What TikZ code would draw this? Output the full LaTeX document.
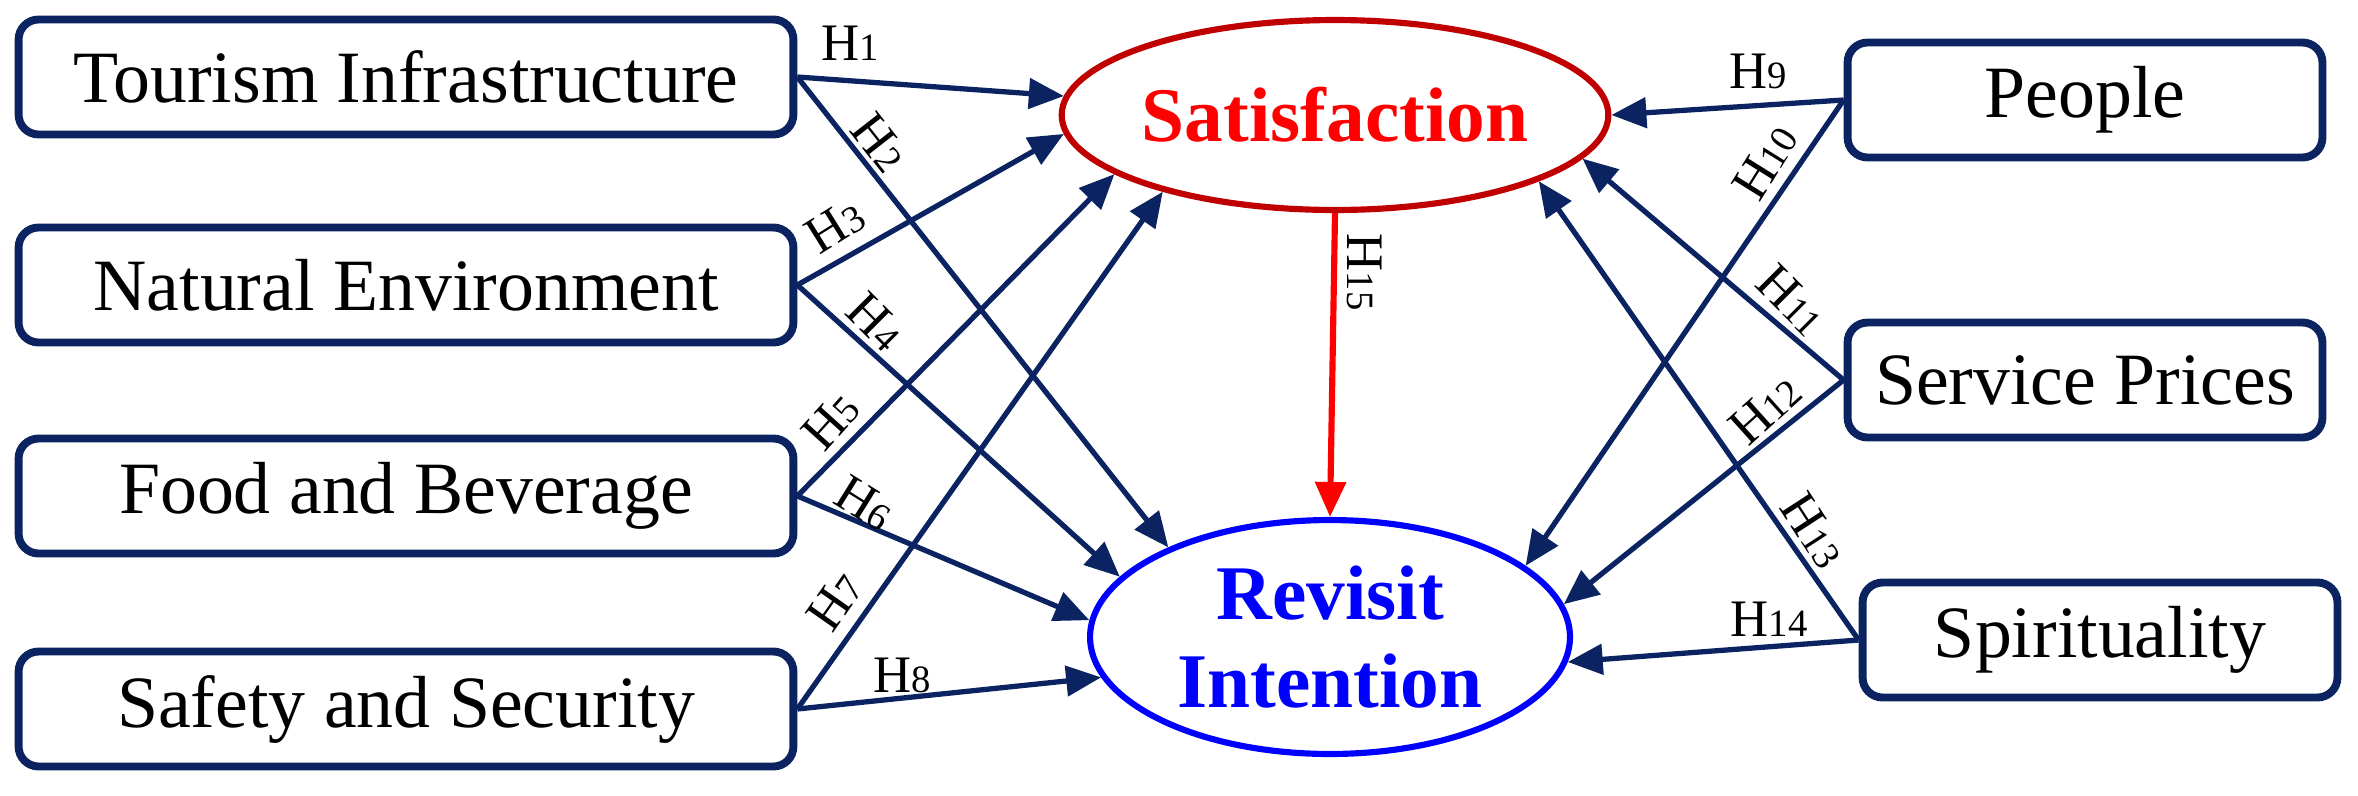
\documentclass[tikz,border=0pt]{standalone}
\usepackage{fontspec}
\setmainfont{Liberation Serif}
\usetikzlibrary{arrows.meta,shapes.geometric}
\definecolor{navy}{HTML}{0B2461}
\definecolor{dred}{HTML}{C00000}
\newcommand\hyp[1]{H{\fontsize{22}{22}\selectfont #1}}
\begin{document}
\begin{tikzpicture}[x=0.02cm,y=-0.02cm,
  box/.style={draw=navy,line width=4.5pt,rounded corners=0.4cm,minimum height=2.3cm,inner sep=0,font=\fontsize{42}{48}\selectfont},
  lbox/.style={box,minimum width=15.5cm},
  rbox/.style={box,minimum width=9.5cm},
  arr/.style={draw=navy,line width=3pt,-{Triangle[length=0.7cm,width=0.6cm]}},
  hl/.style={font=\fontsize{30}{30}\selectfont,inner sep=1pt}]
\useasboundingbox (0,0) rectangle (2358,795);
\node[lbox] (t) at (406,77) {Tourism Infrastructure};
\node[lbox] (n) at (406,285) {Natural Environment};
\node[lbox] (f) at (406,496) {Food and Beverage};
\node[lbox] (s) at (406,709) {Safety and Security};
\node[rbox] (p) at (2085,100) {People};
\node[rbox] (sp) at (2085,380) {Service Prices};
\node[rbox] (sv) at (2100,640) {Spirituality};
\node[ellipse,draw=dred,line width=3.5pt,minimum width=10.76cm,minimum height=3.8cm,inner sep=0,text=red,font=\bfseries\fontsize{44}{48}\selectfont] (sat) at (1335,115) {Satisfaction};
\node[ellipse,draw=blue,line width=3.5pt,minimum width=9.6cm,minimum height=4.68cm,inner sep=0,text=blue,align=center,font=\bfseries\fontsize{44}{50}\selectfont] (ri) at (1330,637) {Revisit\\Intention};
\draw[arr] (t.east) -- (sat.176);
\draw[arr] (t.east) -- (ri.151);
\draw[arr] (n.east) -- (sat.184.5);
\draw[arr] (n.east) -- (ri.164.6);
\draw[arr] (f.east) -- (sat.195.8);
\draw[arr] (f.east) -- (ri.176.5);
\draw[arr] (s.east) -- (sat.204.8);
\draw[arr] (s.east) -- (ri.190);
\draw[arr] (p.west) -- (sat.0);
\draw[arr] (p.west) -- (ri.20.8);
\draw[arr] (sp.west) -- (sat.-10.2);
\draw[arr] (sp.west) -- (ri.8.4);
\draw[arr] (sv.west) -- (sat.-18.9);
\draw[arr] (sv.west) -- (ri.-6);
\draw[line width=3.5pt,draw=red,-{Triangle[length=0.7cm,width=0.6cm]}] (sat.south) -- (ri.north);
\node[hl] (h1) at (850,43) {\hyp1};
\node[hl,rotate=-52] (h2) at (880,142) {\hyp2};
\node[hl,rotate=32] (h3) at (835,226) {\hyp3};
\node[hl,rotate=-45] (h4) at (876,322) {\hyp4};
\node[hl,rotate=48] (h5) at (831,421) {\hyp5};
\node[hl,rotate=-32] (h6) at (865,503) {\hyp6};
\node[hl,rotate=55] (h7) at (835,601) {\hyp7};
\node[hl] (h8) at (902,675) {\hyp8};
\node[hl] (h9) at (1758,71) {\hyp9};
\node[hl,rotate=58] (h10) at (1765,162) {\hyp{10}};
\node[hl,rotate=-45] (h11) at (1792,300) {\hyp{11}};
\node[hl,rotate=42] (h12) at (1765,409) {\hyp{12}};
\node[hl,rotate=-57] (h13) at (1814,530) {\hyp{13}};
\node[hl] (h14) at (1769,619) {\hyp{14}};
\node[hl,rotate=-90] (h15) at (1365,272) {\hyp{15}};
\end{tikzpicture}
\end{document}
